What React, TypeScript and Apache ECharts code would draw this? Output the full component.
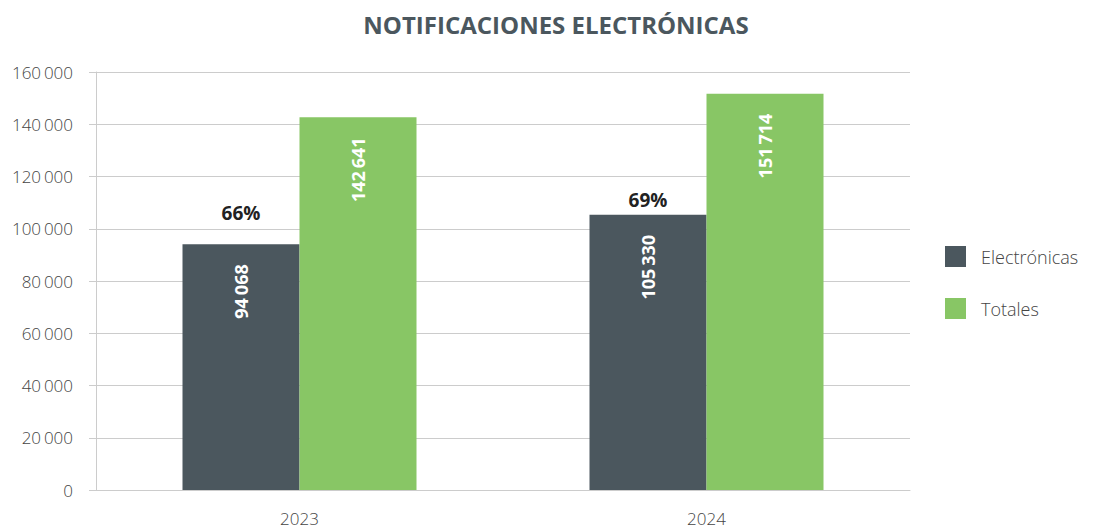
import React, { useEffect, useRef } from "react";
import * as echarts from "echarts";

const categories = ["2023", "2024"];
const electronicas = [94068, 105330];
const totales = [142641, 151714];
const pctLabels = ["66%", "69%"];
const yTicks = [0, 20000, 40000, 60000, 80000, 100000, 120000, 140000, 160000];

const DARK = "#4b575e";
const GREEN = "#88c665";
const FONT = "'Open Sans', 'Noto Sans', sans-serif";

const fmt = (v: number) => {
  const s = String(Math.round(v));
  return s.replace(/\B(?=(\d{3})+(?!\d))/g, "\u2009");
};

export default function App() {
  const ref = useRef<HTMLDivElement>(null);
  useEffect(() => {
    if (!ref.current) return;
    const chart = echarts.init(ref.current, null, { renderer: "svg" });
    chart.setOption({
      animation: false,
      backgroundColor: "#ffffff",
      title: {
        text: "NOTIFICACIONES ELECTRÓNICAS",
        left: 551,
        textAlign: "center",
        top: 7,
        textStyle: { fontFamily: FONT, fontWeight: 700, fontSize: 24, color: DARK },
      },
      legend: {
        data: ["Electrónicas", "Totales"],
        orient: "vertical",
        left: 945,
        top: 246,
        padding: 0,
        itemWidth: 21,
        itemHeight: 21,
        itemGap: 31,
        icon: "rect",
        textStyle: { fontFamily: FONT, fontWeight: 300, fontSize: 18, color: "#444", padding: [0, 0, 0, 10] },
      },
      grid: { left: 96, right: 183, top: 72, bottom: 39, containLabel: false },
      xAxis: {
        type: "category",
        data: categories,
        axisLine: { lineStyle: { color: "#cccccc", width: 1 } },
        axisTick: { show: false },
        axisLabel: { fontFamily: FONT, fontWeight: 300, fontSize: 17, color: "#444", margin: 20 },
      },
      yAxis: {
        type: "value",
        min: yTicks[0],
        max: yTicks[yTicks.length - 1],
        interval: 20000,
        axisLine: { show: true, lineStyle: { color: "#cccccc", width: 1 } },
        axisTick: { show: true, length: 7, lineStyle: { color: "#cccccc", width: 1 } },
        splitLine: { lineStyle: { color: "#cccccc", width: 1 } },
        axisLabel: {
          fontFamily: FONT,
          fontWeight: 300,
          fontSize: 17,
          color: "#444",
          margin: 23,
          formatter: (v: number) => fmt(v),
        },
      },
      series: [
        {
          name: "Electrónicas",
          type: "bar",
          stack: "e",
          data: electronicas,
          barWidth: 117,
          barGap: "0%",
          itemStyle: { color: DARK },
          label: {
            show: true,
            position: "insideTop",
            distance: 20,
            rotate: 90,
            align: "right",
            verticalAlign: "middle",
            color: "#ffffff",
            fontFamily: FONT,
            fontWeight: 700,
            fontSize: 18,
            formatter: (p: any) => fmt(p.value),
          },
        },
        {
          name: "Electrónicas",
          type: "bar",
          stack: "e",
          data: [
            { value: 0, label: { distance: 22 } },
            { value: 0, label: { distance: 5 } },
          ],
          barWidth: 117,
          barGap: "0%",
          itemStyle: { color: DARK },
          silent: true,
          label: {
            show: true,
            position: "top",
            color: "#222222",
            fontFamily: FONT,
            fontWeight: 700,
            fontSize: 19,
            formatter: (p: any) => pctLabels[p.dataIndex],
          },
        },
        {
          name: "Totales",
          type: "bar",
          data: totales,
          barWidth: 117,
          barGap: "0%",
          itemStyle: { color: GREEN },
          label: {
            show: true,
            position: "insideTop",
            distance: 20,
            rotate: 90,
            align: "right",
            verticalAlign: "middle",
            color: "#ffffff",
            fontFamily: FONT,
            fontWeight: 700,
            fontSize: 18,
            formatter: (p: any) => fmt(p.value),
          },
        },
      ],
    });
    return () => chart.dispose();
  }, []);
  return <div ref={ref} style={{ width: 1093, height: 529, position: "absolute", left: 0, top: 0 }} />;
}
